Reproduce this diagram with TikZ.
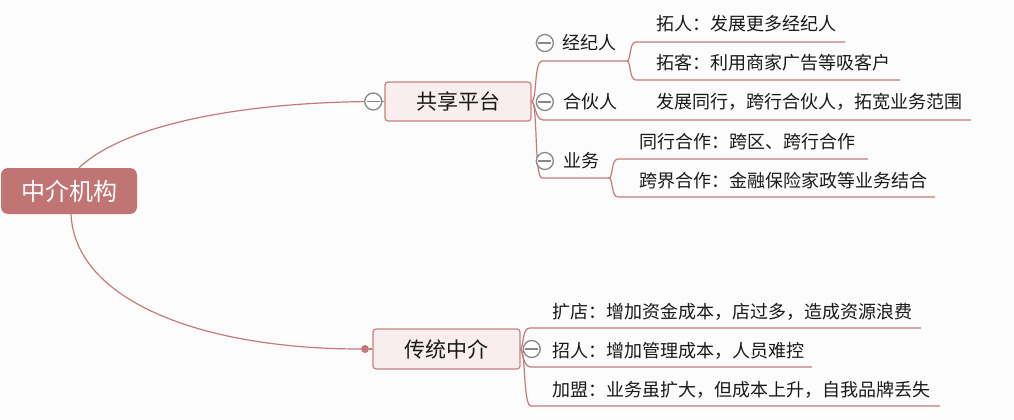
\documentclass[tikz,border=0pt]{standalone}
\usepackage{fontspec}
\setmainfont{Noto Sans CJK SC}
\usepackage{xcolor}
\usetikzlibrary{positioning}
\definecolor{rootred}{RGB}{192,116,116}
\definecolor{linered}{RGB}{196,122,122}
\definecolor{boxfill}{RGB}{249,238,238}
\definecolor{boxline}{RGB}{200,128,128}
\definecolor{foldgray}{RGB}{135,135,135}
\definecolor{paper}{RGB}{252,252,252}
\definecolor{ink}{RGB}{25,25,25}

\begin{document}
\begin{tikzpicture}[x=1pt, y=-1pt,
    rootbox/.style={fill=rootred, text=white, rounded corners=7pt, minimum width=136pt, minimum height=46pt, inner sep=0pt, font=\fontsize{24pt}{28pt}\selectfont},
    topic/.style={draw=boxline, fill=boxfill, line width=1.2pt, rounded corners=3pt, minimum height=39pt, inner sep=0pt, text=ink, font=\fontsize{21pt}{25pt}\selectfont},
    txt/.style={inner sep=0pt, anchor=west, text=ink, text height=15.9pt, text depth=2.1pt, font=\fontsize{18pt}{22pt}\selectfont},
    link/.style={draw=linered, line width=1.2pt},
    fold/.style={circle, draw=foldgray, fill=white, line width=1.3pt, minimum size=17pt, inner sep=0pt,
      path picture={\draw[foldgray, line width=1.3pt] ([xshift=-6.5pt]path picture bounding box.center) -- ([xshift=6.5pt]path picture bounding box.center);}}]
    \useasboundingbox (0,0) rectangle (1014,420);
    \fill[paper] (0,0) rectangle (1014,420);

    \node[rootbox] (root) at (69,191) {中介机构};
    \node[topic, minimum width=146pt] (gx) at (458,101.5) {共享平台};
    \node[topic, minimum width=147pt, minimum height=40pt] (ct) at (446.5,349) {传统中介};
    \node[circle, fill=linered, inner sep=0pt, minimum size=8pt] (dot) at (365,349) {};

    \node[txt] (jj) at (562,43) {经纪人};
    \node[txt] (hh) at (563,102) {合伙人};
    \node[txt] (yw) at (563,161) {业务};
    \node[txt] (tr) at (656,24) {拓人：发展更多经纪人};
    \node[txt] (tk) at (656,63) {拓客：利用商家广告等吸客户};
    \node[txt] (fz) at (656,102) {发展同行，跨行合伙人，拓宽业务范围};
    \node[txt] (th) at (639,142) {同行合作：跨区、跨行合作};
    \node[txt] (kj) at (639,181) {跨界合作：金融保险家政等业务结合};
    \node[txt] (kd) at (552,312) {扩店：增加资金成本，店过多，造成资源浪费};
    \node[txt] (zr) at (552,351) {招人：增加管理成本，人员难控};
    \node[txt] (jm) at (552,390) {加盟：业务虽扩大，但成本上升，自我品牌丢失};

    \coordinate (jjend) at (627,61);
    \coordinate (hhend) at (627,120);
    \coordinate (ywend) at (609,178);
    \coordinate (tr-e) at (845,42);
    \coordinate (tk-e) at (900,80);
    \coordinate (fz-e) at (971,120);
    \coordinate (th-e) at (868,159);
    \coordinate (kj-e) at (935,197);
    \coordinate (kd-e) at (921,328);
    \coordinate (zr-e) at (812,367);
    \coordinate (jm-e) at (940,406);

    \draw[link] ([xshift=10pt]root.north) .. controls (130,120) and (260,101) .. (gx.west);
    \draw[link] ([xshift=2pt]root.south) .. controls (75,300) and (200,349) .. (dot.west);
    \draw[link] (dot) -- (ct.west);

    \draw[link] (gx.east) .. controls (537,101) and (534,61) .. (542,61) -- (jjend);
    \draw[link] (gx.east) .. controls (535,101) and (535,120) .. (543,120) -- (hhend) -- (fz-e);
    \draw[link] (gx.east) .. controls (538,101) and (534,178) .. (542,178) -- (ywend);
    \draw[link] (jjend) .. controls (631,61) and (629,42) .. (636,42) -- (tr-e);
    \draw[link] (jjend) .. controls (631,61) and (629,80) .. (636,80) -- (tk-e);
    \draw[link] (ywend) .. controls (613,178) and (611,159) .. (618,159) -- (th-e);
    \draw[link] (ywend) .. controls (613,178) and (611,197) .. (618,197) -- (kj-e);

    \draw[link] (ct.east) .. controls (524,345) and (522,328) .. (530,328) -- (kd-e);
    \draw[link] (ct.east) .. controls (523,352) and (523,367) .. (531,367) -- (zr-e);
    \draw[link] (ct.east) .. controls (526,352) and (523,406) .. (531,406) -- (jm-e);

    \node[fold, left=2pt of gx] (gxf) {};
    \node[fold, right=2pt of ct] (ctf) {};
    \node[fold, left=8pt of jj] (jjf) {};
    \node[fold, left=9pt of hh] (hhf) {};
    \node[fold, left=9pt of yw] (ywf) {};
  \end{tikzpicture}
\end{document}
